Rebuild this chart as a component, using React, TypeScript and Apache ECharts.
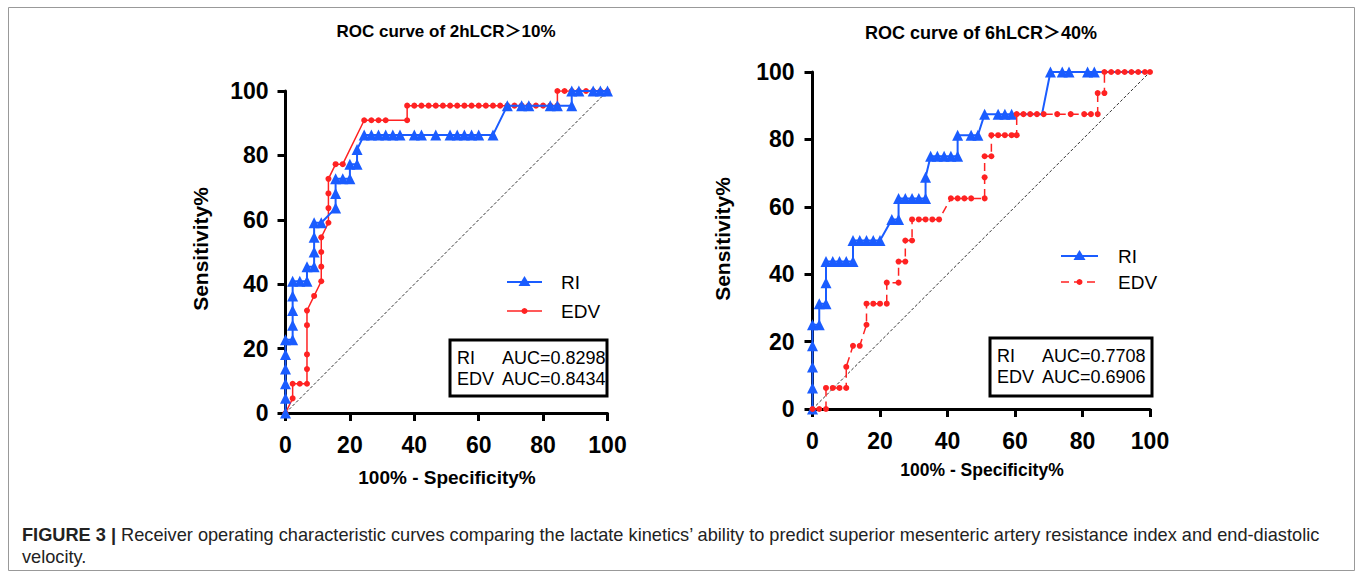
import React, { useEffect, useRef } from "react";
import * as echarts from "echarts";

// ---- data (x = 100% - Specificity%, y = Sensitivity%) ----
const xTicks = [0, 20, 40, 60, 80, 100];

const leftTitle = "ROC curve of 2hLCR＞10%";
const rightTitle = "ROC curve of 6hLCR＞40%";

const leftRI: number[][] = [
  [0, 0], [0, 4.55], [0, 9.09], [0, 13.64], [0, 18.18], [0, 22.73], [2.22, 22.73], [2.22, 27.27],
  [2.22, 31.82], [2.22, 36.36], [2.22, 40.91], [4.44, 40.91], [6.67, 40.91], [6.67, 45.45], [8.89, 45.45],
  [8.89, 50], [8.89, 54.55], [8.89, 59.09], [11.11, 59.09], [15.56, 63.64], [15.56, 68.18], [15.56, 72.73],
  [17.78, 72.73], [20, 72.73], [20, 77.27], [22.22, 77.27], [22.22, 81.82], [24.44, 86.36], [26.67, 86.36],
  [28.89, 86.36], [31.11, 86.36], [33.33, 86.36], [35.56, 86.36], [40, 86.36], [42.22, 86.36], [46.67, 86.36],
  [51.11, 86.36], [53.33, 86.36], [55.56, 86.36], [57.78, 86.36], [60, 86.36], [64.44, 86.36], [68.89, 95.45],
  [73.33, 95.45], [75.56, 95.45], [82.22, 95.45], [84.44, 95.45], [88.89, 95.45], [88.89, 100], [91.11, 100],
  [95.56, 100], [97.78, 100], [100, 100],
];

const leftEDV: number[][] = [
  [0, 0], [2.22, 4.55], [2.22, 9.09], [4.44, 9.09], [6.67, 9.09], [6.67, 13.64], [6.67, 18.18], [6.67, 27.27],
  [6.67, 31.82], [8.89, 36.36], [11.11, 40.91], [11.11, 45.45], [11.11, 50], [11.11, 54.55], [13.33, 59.09],
  [13.33, 63.64], [13.33, 68.18], [13.33, 72.73], [15.56, 77.27], [17.78, 77.27], [24.44, 90.91], [26.67, 90.91],
  [28.89, 90.91], [31.11, 90.91], [37.78, 90.91], [37.78, 95.45], [40, 95.45], [42.22, 95.45], [44.44, 95.45],
  [46.67, 95.45], [48.89, 95.45], [51.11, 95.45], [53.33, 95.45], [55.56, 95.45], [57.78, 95.45], [60, 95.45],
  [62.22, 95.45], [64.44, 95.45], [66.67, 95.45], [68.89, 95.45], [71.11, 95.45], [73.33, 95.45], [75.56, 95.45],
  [77.78, 95.45], [80, 95.45], [82.22, 95.45], [84.44, 95.45], [84.44, 100], [86.67, 100], [88.89, 100],
  [91.11, 100], [93.33, 100], [95.56, 100], [97.78, 100], [100, 100],
];

const rightRI: number[][] = [
  [0, 0], [0, 6.25], [0, 12.5], [0, 18.75], [0, 25], [2, 25], [2, 31.25], [4, 31.25], [4, 37.5], [4, 43.75],
  [6, 43.75], [8, 43.75], [10, 43.75], [12, 43.75], [12, 50], [14, 50], [16, 50], [18, 50], [20, 50],
  [23.5, 56.25], [25.5, 56.25], [25.5, 62.5], [27.5, 62.5], [29.5, 62.5], [31.5, 62.5], [33.5, 62.5],
  [33.5, 68.75], [35, 75], [37, 75], [39, 75], [41, 75], [43, 75], [43, 81.25], [47, 81.25], [49, 81.25],
  [51, 87.5], [55, 87.5], [57, 87.5], [59, 87.5], [68, 87.5], [70.5, 100], [74, 100], [76, 100], [81.5, 100],
  [83.5, 100], [100, 100],
];
const rightRIHidden = [[68, 87.5], [100, 100]];

const rightEDV: number[][] = [
  [0, 0], [2, 0], [4, 0], [4, 6.25], [6, 6.25], [8, 6.25], [10, 6.25], [10, 12.5], [12, 18.75], [14, 18.75],
  [16, 25], [16, 31.25], [18, 31.25], [20, 31.25], [22, 31.25], [22, 37.5], [25.5, 37.5], [25.5, 43.75],
  [27.5, 43.75], [27.5, 50], [29.5, 50], [29.5, 56.25], [31.5, 56.25], [33.5, 56.25], [35.5, 56.25],
  [37.5, 56.25], [41, 62.5], [43, 62.5], [45, 62.5], [47, 62.5], [51, 62.5], [51, 68.75], [51, 75], [53, 75],
  [53, 81.25], [55, 81.25], [57, 81.25], [59, 81.25], [60.5, 81.25], [60.5, 87.5], [62.5, 87.5], [64.5, 87.5],
  [66.5, 87.5], [68.5, 87.5], [72.5, 87.5], [76.5, 87.5], [80.5, 87.5], [82.5, 87.5], [84.5, 87.5],
  [84.5, 93.75], [86.5, 93.75], [86.5, 100], [88.5, 100], [90.5, 100], [92.5, 100], [94.5, 100], [96.5, 100],
  [98.5, 100], [100, 100],
];

const diagonal: number[][] = [[0, 0], [100, 100]];

const leftAUC = [["RI", "AUC=0.8298"], ["EDV", "AUC=0.8434"]];
const rightAUC = [["RI", "AUC=0.7708"], ["EDV", "AUC=0.6906"]];

const captionBold = "FIGURE 3 |";
const captionLine1 =
  " Receiver operating characteristic curves comparing the lactate kinetics’ ability to predict superior mesenteric artery resistance index and end-diastolic";
const captionLine2 = "velocity.";

const BLUE = "#1a5cff";
const RED = "#ff2222";
const FONT = "'Liberation Sans', Arial, Helvetica, sans-serif";
const TITLE_FONT = "'Liberation Sans', Arial, 'Noto Sans CJK SC', sans-serif";

export default function App() {
  const ref = useRef<HTMLDivElement>(null);
  useEffect(() => {
    document.body.style.margin = "0";
    const chart = echarts.init(ref.current!, null, { renderer: "svg" });

    const axisCommon = {
      type: "value" as const,
      min: xTicks[0],
      max: xTicks[xTicks.length - 1],
      interval: 20,
      splitLine: { show: false },
      axisLine: { show: true, onZero: false, lineStyle: { color: "#000", width: 3 } },
      axisTick: { show: true, length: 8, lineStyle: { color: "#000", width: 3 } },
      axisLabel: { color: "#000", fontSize: 23, fontWeight: "bold" as const, fontFamily: FONT },
    };

    const ax = (gi: number, margin: number) => ({
      ...axisCommon,
      gridIndex: gi,
      axisLabel: { ...axisCommon.axisLabel, margin },
    });

    const riData = (arr: number[][], hidden: number[][]) =>
      arr.map((p) =>
        hidden.some((h) => h[0] === p[0] && h[1] === p[1]) ? { value: p, symbol: "none" } : { value: p }
      );

    const diagSeries = (i: number) => ({
      type: "line",
      xAxisIndex: i,
      yAxisIndex: i,
      data: diagonal,
      symbol: "none",
      lineStyle: { color: "#333", width: 1, type: [3, 2] },
      z: 1,
    });

    const legendItems = (x0: number, x1: number, yRI: number, yEDV: number, tx: number, dashed: boolean) => {
      const mid = (x0 + x1) / 2;
      return [
        { type: "line", shape: { x1: x0, y1: yRI, x2: x1, y2: yRI }, style: { stroke: BLUE, lineWidth: 2 } },
        {
          type: "polygon",
          shape: { points: [[mid, yRI - 6], [mid - 6, yRI + 4], [mid + 6, yRI + 4]] },
          style: { fill: BLUE },
        },
        {
          type: "text",
          x: tx,
          y: yRI,
          style: { text: "RI", fontSize: 19, fontFamily: FONT, fill: "#000", verticalAlign: "middle" },
        },
        {
          type: "line",
          shape: { x1: x0, y1: yEDV, x2: x1, y2: yEDV },
          style: { stroke: RED, lineWidth: 1.5, lineDash: dashed ? [8, 5] : null },
        },
        { type: "circle", shape: { cx: mid, cy: yEDV, r: 3 }, style: { fill: RED } },
        {
          type: "text",
          x: tx,
          y: yEDV,
          style: { text: "EDV", fontSize: 19, fontFamily: FONT, fill: "#000", verticalAlign: "middle" },
        },
      ];
    };

    const aucBox = (x: number, y: number, w: number, h: number, rows: string[][], y1: number, y2: number, axx: number) => [
      { type: "rect", shape: { x, y, width: w, height: h }, style: { fill: "#fff", stroke: "#000", lineWidth: 3 }, z: 10 },
      ...rows.flatMap((r, i) => [
        {
          type: "text",
          x: x + 7,
          y: i === 0 ? y1 : y2,
          z: 11,
          style: { text: r[0], fontSize: 18, fontFamily: FONT, fill: "#000", verticalAlign: "middle" },
        },
        {
          type: "text",
          x: axx,
          y: i === 0 ? y1 : y2,
          z: 11,
          style: { text: r[1], fontSize: 18, fontFamily: FONT, fill: "#000", verticalAlign: "middle" },
        },
      ]),
    ];

    const boldText = (text: string, x: number, y: number, size: number, rot = 0, fam = FONT) => ({
      type: "text",
      x,
      y,
      rotation: rot,
      style: {
        text,
        fontSize: size,
        fontWeight: "bold",
        fontFamily: fam,
        fill: "#000",
        align: "center",
        verticalAlign: "middle",
      },
    });

    chart.setOption({
      animation: false,
      backgroundColor: "#fff",
      grid: [
        { left: 285.5, top: 91, width: 322, height: 322 },
        { left: 812.5, top: 72, width: 337.5, height: 337 },
      ],
      xAxis: [ax(0, 20), ax(1, 20)],
      yAxis: [ax(0, 17), ax(1, 18)],
      series: [
        diagSeries(0),
        {
          name: "EDV",
          type: "line",
          xAxisIndex: 0,
          yAxisIndex: 0,
          data: leftEDV,
          symbol: "circle",
          symbolSize: 6,
          itemStyle: { color: RED },
          lineStyle: { color: RED, width: 1.5 },
          z: 2,
        },
        {
          name: "RI",
          type: "line",
          xAxisIndex: 0,
          yAxisIndex: 0,
          data: leftRI,
          symbol: "triangle",
          symbolSize: 11,
          itemStyle: { color: BLUE },
          lineStyle: { color: BLUE, width: 2 },
          z: 3,
        },
        diagSeries(1),
        {
          name: "RI",
          type: "line",
          xAxisIndex: 1,
          yAxisIndex: 1,
          data: riData(rightRI, rightRIHidden),
          symbol: "triangle",
          symbolSize: 11,
          itemStyle: { color: BLUE },
          lineStyle: { color: BLUE, width: 2 },
          z: 2,
        },
        {
          name: "EDV",
          type: "line",
          xAxisIndex: 1,
          yAxisIndex: 1,
          data: rightEDV,
          symbol: "circle",
          symbolSize: 6,
          itemStyle: { color: RED },
          lineStyle: { color: RED, width: 1.5, type: [8, 5] },
          z: 3,
        },
      ],
      graphic: [
        {
          type: "rect",
          shape: { x: 8.5, y: 7.5, width: 1346, height: 563 },
          style: { fill: "none", stroke: "#999", lineWidth: 1 },
          silent: true,
        },
        boldText(leftTitle, 446, 31, 17, 0, TITLE_FONT),
        boldText(rightTitle, 981, 33, 18, 0, TITLE_FONT),
        boldText("Sensitivity%", 200, 249, 21, Math.PI / 2),
        boldText("Sensitivity%", 722, 239, 21, Math.PI / 2),
        boldText("100% - Specificity%", 447, 477, 19),
        boldText("100% - Specificity%", 982, 470, 17.5),
        ...legendItems(507, 542, 282, 311, 561, false),
        ...legendItems(1061, 1098, 256, 282, 1118, true),
        ...aucBox(450, 340, 157, 56, leftAUC, 358, 379, 502),
        ...aucBox(990, 338, 162, 58, rightAUC, 356, 377, 1042),
        {
          type: "text",
          x: 22,
          y: 535,
          style: {
            text: "{b|" + captionBold + "}" + captionLine1,
            fontSize: 18.2,
            fontFamily: FONT,
            fill: "#222",
            verticalAlign: "middle",
            rich: { b: { fontWeight: "bold", fontSize: 18.2, fontFamily: FONT, fill: "#222" } },
          },
        },
        {
          type: "text",
          x: 22,
          y: 557,
          style: { text: captionLine2, fontSize: 18.2, fontFamily: FONT, fill: "#222", verticalAlign: "middle" },
        },
      ],
    });
    return () => chart.dispose();
  }, []);
  return <div ref={ref} style={{ width: 1357, height: 576 }} />;
}
